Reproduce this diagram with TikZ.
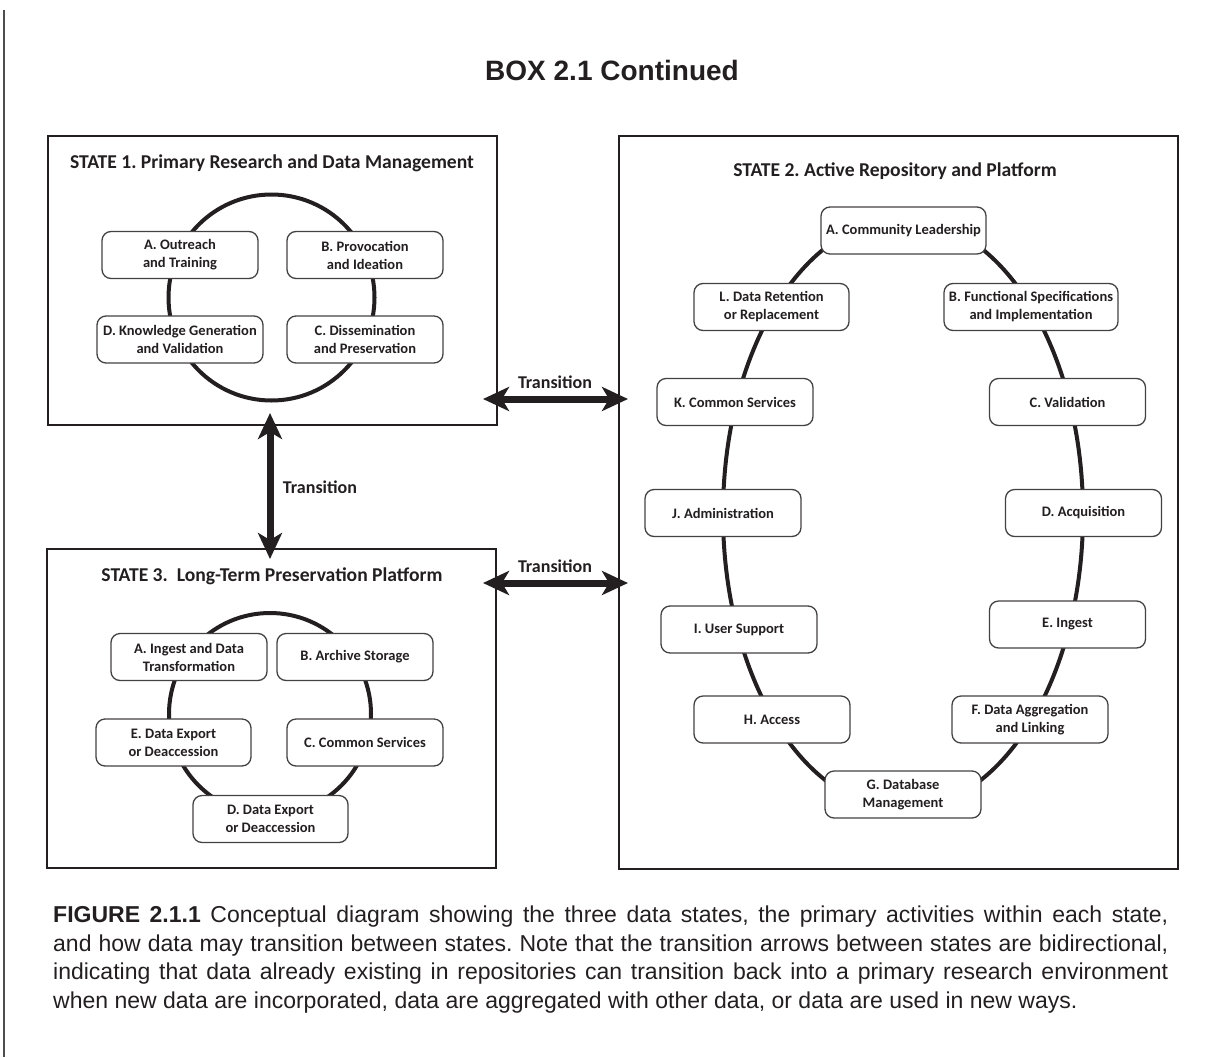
\documentclass[tikz,border=0pt]{standalone}
\usepackage{fontspec}
\setmainfont{Carlito}
\newfontfamily\hfont{Liberation Sans}
\usetikzlibrary{arrows.meta}
\definecolor{ink}{HTML}{231F20}
\frenchspacing
\tikzset{
 act/.style={draw=ink!85, line width=1.3pt, rounded corners=9pt, fill=white, minimum height=47pt, align=center, font=\bfseries\fontsize{14.5}{18}\selectfont, inner sep=2pt, text=ink},
 statebox/.style={draw=ink, line width=2pt, inner sep=0pt},
 cyc/.style={draw=ink, line width=4pt},
 trans/.style={line width=7pt, draw=ink, {Stealth[length=26pt,width=24pt,inset=7pt]}-{Stealth[length=26pt,width=24pt,inset=7pt]}},
 tlabel/.style={font=\bfseries\fontsize{18}{20}\selectfont, text=ink},
 stitle/.style={font=\bfseries\fontsize{19.6}{22}\selectfont, text=ink},
}
\begin{document}
\begin{tikzpicture}[x=1pt,y=-1pt]
\useasboundingbox (0,0) rectangle (1206,1057);
\draw[ink!80, line width=1.2pt] (4,10) -- (4,1057);
\node[font=\hfont\bfseries\fontsize{28}{30}\selectfont, text=ink] (head) at (612,70) {BOX 2.1 Continued};
% state boxes
\node[statebox, minimum width=449pt, minimum height=289pt] (s1) at (272.5,280.5) {};
\node[statebox, minimum width=559pt, minimum height=733pt] (s2) at (898.5,502.5) {};
\node[statebox, minimum width=449pt, minimum height=319pt] (s3) at (271.5,708.5) {};
\node[stitle] (t1) at (272,163) {STATE 1. Primary Research and Data Management};
\node[stitle] (t2) at (895,171) {STATE 2. Active Repository and Platform};
\node[stitle] (t3) at (272,576) {STATE 3.\ \ Long-Term Preservation Platform};
% cycles
\draw[cyc] (271.5,297.5) circle [radius=103pt];
\draw[cyc] (270,714) circle [radius=101pt];
\draw[cyc] (903,514) ellipse [x radius=180pt, y radius=295pt];
% state 1 activities
\node[act, minimum width=156pt] (a1) at (180,255) {A. Outreach\\and Training};
\node[act, minimum width=156pt] (b1) at (365,255) {B. Provocation\\and Ideation};
\node[act, minimum width=166pt] (d1) at (180,339.5) {D. Knowledge Generation\\and Validation};
\node[act, minimum width=156pt] (c1) at (365,339.5) {C. Dissemination\\and Preservation};
% state 3 activities
\node[act, minimum width=156pt] (a3) at (189,657) {A. Ingest and Data\\Transformation};
\node[act, minimum width=156pt] (b3) at (355,657) {B. Archive Storage};
\node[act, minimum width=155pt] (e3) at (173.5,742.5) {E. Data Export\\or Deaccession};
\node[act, minimum width=156pt] (c3) at (365,742.5) {C. Common Services};
\node[act, minimum width=155pt] (d3) at (270.5,819) {D. Data Export\\or Deaccession};
% state 2 activities
\node[act, minimum width=165pt] (a2) at (903.5,230.5) {A. Community Leadership};
\node[act, minimum width=155pt] (l2) at (771.5,307) {L. Data Retention\\or Replacement};
\node[act, minimum width=174pt] (b2) at (1031,307) {B. Functional Specifications\\and Implementation};
\node[act, minimum width=156pt] (k2) at (735,402) {K. Common Services};
\node[act, minimum width=156pt] (c2) at (1067.5,402) {C. Validation};
\node[act, minimum width=156pt] (j2) at (723,513) {J. Administration};
\node[act, minimum width=156pt] (d2) at (1083.5,513) {D. Acquisition};
\node[act, minimum width=156pt] (i2) at (739,629.5) {I. User Support};
\node[act, minimum width=156pt] (e2) at (1067.5,624.5) {E. Ingest};
\node[act, minimum width=156pt] (h2) at (772,719.5) {H. Access};
\node[act, minimum width=156pt] (f2) at (1030,719.5) {F. Data Aggregation\\and Linking};
\node[act, minimum width=156pt] (g2) at (903,794.5) {G. Database\\Management};
% transitions
\coordinate (p1) at (483,399);
\coordinate (q1) at (628,399);
\coordinate (p2) at (483,583);
\coordinate (q2) at (628,583);
\coordinate (v1) at (270,413);
\coordinate (v2) at (270,559);
\draw[trans] (p1) -- (q1);
\draw[trans] (p2) -- (q2);
\draw[trans] (v1) -- (v2);
\node[tlabel] (l1) at (555,382) {Transition};
\node[tlabel] (l3) at (555,566) {Transition};
\node[tlabel] (lv) at (320,487) {Transition};
% caption
\node[anchor=north west, inner sep=0pt, text width=1115pt, align=justify, text=ink, font=\hfont\fontsize{23}{28.5}\selectfont] (cap) at (53,906)
{\textbf{FIGURE 2.1.1} Conceptual diagram showing the three data states, the primary activities within each state,\linebreak
and how data may transition between states. Note that the transition arrows between states are bidirectional,\linebreak
indicating that data already existing in repositories can transition back into a primary research environment\linebreak
when new data are incorporated, data are aggregated with other data, or data are used in new ways.};
\end{tikzpicture}
\end{document}
